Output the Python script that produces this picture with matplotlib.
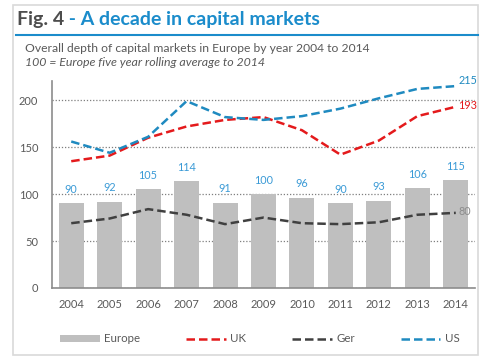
import matplotlib.pyplot as plt
from matplotlib.patches import Rectangle
from matplotlib.lines import Line2D

plt.rcParams['font.family'] = ['Lato', 'DejaVu Sans']

# data
years = ['2004', '2005', '2006', '2007', '2008', '2009', '2010', '2011', '2012', '2013', '2014']
europe = [90, 92, 105, 114, 91, 100, 96, 90, 93, 106, 115]
uk = [135, 141, 160, 172, 179, 182, 168, 142, 157, 183, 193]
ger = [69, 74, 84, 78, 68, 75, 69, 68, 70, 78, 80]
us = [156, 144, 161, 199, 182, 179, 183, 191, 202, 212, 215]

bar_col = '#bfbfbf'
uk_col = '#e41a1c'
ger_col = '#404040'
us_col = '#1f8ac0'
lbl_col = '#3a9ad6'
title_blue = '#1b8ccb'
txt_col = '#595959'

fig = plt.figure(figsize=(4.9, 3.6), dpi=100)

# outer frame
fig.patches.append(Rectangle((13 / 490, 5 / 360), 465 / 490, 350 / 360, transform=fig.transFigure,
                             fill=False, edgecolor='#d9d9d9', lw=1.2, zorder=0))

# title
t1 = fig.text(17 / 490, 1 - 20 / 360, 'Fig. 4', fontsize=14, fontweight='bold',
              color='#4d4d4d', va='center', ha='left')
fig.canvas.draw()
bb = t1.get_window_extent()
fig.text(bb.x1 / 490, 1 - 20 / 360, ' - A decade in capital markets', fontsize=14,
         fontweight='bold', color=title_blue, va='center', ha='left')
fig.lines.append(Line2D([16 / 490, 478 / 490], [1 - 35 / 360, 1 - 35 / 360],
                        transform=fig.transFigure, color=title_blue, lw=1.5))
fig.text(25 / 490, 1 - 48 / 360, 'Overall depth of capital markets in Europe by year 2004 to 2014',
         fontsize=8.7, color=txt_col, va='center')
fig.text(25 / 490, 1 - 63 / 360, '100 = Europe five year rolling average to 2014',
         fontsize=8.9, color=txt_col, va='center', style='italic')

ax = fig.add_axes([52 / 490, 72 / 360, 423 / 490, 206.6 / 360])
x = range(len(years))
bars = ax.bar(x, europe, width=0.65, color=bar_col, label='Europe', zorder=2)
dash = (3.4, 1.6)
l_uk, = ax.plot(x, uk, color=uk_col, lw=1.8, dashes=dash, label='UK', zorder=3)
l_ger, = ax.plot(x, ger, color=ger_col, lw=1.8, dashes=dash, label='Ger', zorder=3)
l_us, = ax.plot(x, us, color=us_col, lw=1.8, dashes=dash, label='US', zorder=3)

for i, v in enumerate(europe):
    ax.annotate(str(v), (i, v), xytext=(0, 10), textcoords='offset points',
                ha='center', va='center', fontsize=7.8, color=lbl_col)

ax.annotate(str(us[-1]), (10, us[-1]), xytext=(2, 4), textcoords='offset points',
            ha='left', va='center', fontsize=7.8, color=us_col, annotation_clip=False)
ax.annotate(str(uk[-1]), (10, uk[-1]), xytext=(2, 1), textcoords='offset points',
            ha='left', va='center', fontsize=7.8, color=uk_col, annotation_clip=False)
ax.annotate(str(ger[-1]), (10, ger[-1]), xytext=(2, 1), textcoords='offset points',
            ha='left', va='center', fontsize=7.8, color='#8c8c8c', annotation_clip=False)

ax.set_xlim(-0.5, 10.5)
ax.set_ylim(0, 220)
ax.set_yticks([0, 50, 100, 150, 200])
ax.set_xticks(list(x))
ax.set_xticklabels(years)
ax.tick_params(length=0, labelsize=8, labelcolor=txt_col, pad=8)
ax.tick_params(axis='y', pad=10)
ax.yaxis.grid(True, linestyle=(0, (1, 1.5)), color='#7f7f7f', lw=0.9, zorder=1)
ax.set_axisbelow(True)
for s in ['top', 'right']:
    ax.spines[s].set_visible(False)
for s in ['left', 'bottom']:
    ax.spines[s].set_color('#8c8c8c')
    ax.spines[s].set_linewidth(1.2)

fig.legend(handles=[bars, l_uk, l_ger, l_us], labels=['Europe', 'UK', 'Ger', 'US'],
           loc='center left', bbox_to_anchor=(50 / 490, 1 - 339 / 360), ncol=4, frameon=False,
           fontsize=8.3, handlelength=3.4, handleheight=0.6, handletextpad=0.4,
           columnspacing=4.0, labelcolor=txt_col)

fig.savefig('out.png', dpi=100)
